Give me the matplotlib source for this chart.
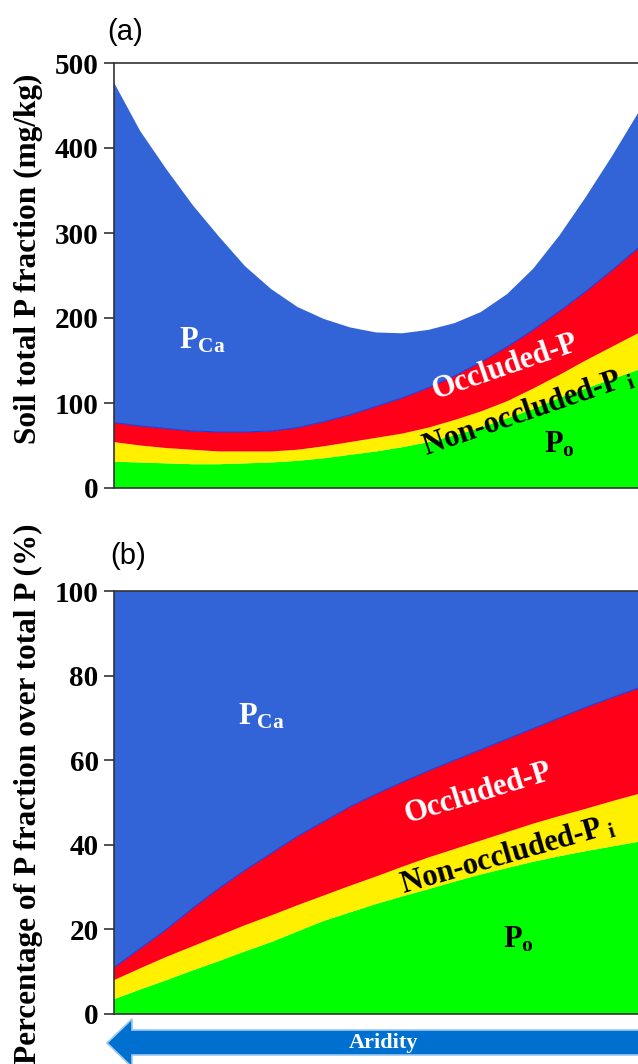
import matplotlib
matplotlib.use("Agg")
import matplotlib.pyplot as plt
from matplotlib.patches import Polygon
import numpy as np

plt.rcParams['mathtext.fontset'] = 'custom'
plt.rcParams['mathtext.bf'] = 'Liberation Serif:bold'
plt.rcParams['mathtext.rm'] = 'Liberation Serif:bold'
plt.rcParams['mathtext.it'] = 'Liberation Serif:bold'

# x position along the aridity gradient (normalised, visible part of axis)
x = [0.00, 0.05, 0.10, 0.15, 0.20, 0.25, 0.30, 0.35, 0.40, 0.45, 0.50,
     0.55, 0.60, 0.65, 0.70, 0.75, 0.80, 0.85, 0.90, 0.95, 1.00]

# Panel (a): soil P fractions (mg/kg)
a_po = [31, 30, 29, 28, 28, 29, 30, 32, 35, 39, 43,
        48, 54, 62, 71, 82, 93, 106, 117, 128, 139]
a_nonocc = [23, 20, 18, 17, 15, 14, 13, 13, 14, 15, 16,
            16, 17, 18, 19, 20, 24, 27, 33, 38, 43]
a_occ = [23, 23, 23, 22, 23, 23, 24, 26, 29, 32, 37,
         42, 47, 52, 58, 64, 69, 75, 81, 90, 100]
a_pca = [400, 347, 305, 266, 230, 195, 167, 142, 121, 103, 87,
         76, 68, 62, 59, 62, 72, 89, 111, 134, 159]

# Panel (b): percentage of total P (%)
b_po = [3.5, 5.8, 8.0, 10.3, 12.5, 14.8, 17.0, 19.5, 22.0, 24.0, 26.0,
        27.8, 29.5, 31.3, 33.0, 34.5, 36.0, 37.3, 38.5, 39.6, 40.7]
b_nonocc = [4.5, 5.0, 5.5, 5.7, 6.0, 6.2, 6.3, 6.2, 6.0, 6.3, 6.5,
            7.0, 7.5, 7.7, 8.0, 8.5, 9.0, 9.5, 10.0, 10.7, 11.3]
b_occ = [3.0, 4.7, 6.5, 9.0, 11.2, 13.0, 14.7, 16.3, 17.5, 18.7, 19.5,
         20.0, 20.5, 21.0, 21.5, 22.0, 22.5, 23.2, 24.0, 24.5, 25.0]
b_pca = [89.0, 84.5, 80.0, 75.0, 70.3, 66.0, 62.0, 58.0, 54.5, 51.0, 48.0,
         45.2, 42.5, 40.0, 37.5, 35.0, 32.5, 30.0, 27.5, 25.2, 23.0]

a_ticks = [0, 100, 200, 300, 400, 500]
b_ticks = [0, 20, 40, 60, 80, 100]

colors = ['#00FF00', '#FFF000', '#FF0018', '#3264D8']

W, H = 638, 1064
fig = plt.figure(figsize=(W / 100, H / 100), dpi=100)

def px_box(left, top, right, bottom):
    return [left / W, 1 - bottom / H, (right - left) / W, (bottom - top) / H]

xmax = (650 - 114) / (638 - 114)
serif_bold = dict(family='Liberation Serif', weight='bold')

def style_axes(ax, ticks, ylim, ylabel, label_y):
    ax.set_xlim(0, xmax)
    ax.set_ylim(*ylim)
    ax.set_yticks(ticks)
    ax.set_yticklabels([str(t) for t in ticks], fontdict=dict(size=21, **serif_bold))
    ax.set_xticks([])
    ax.tick_params(axis='y', direction='out', length=7, width=1.2, pad=4,
                   color='#333333', labelcolor='black')
    for s in ['left', 'top', 'bottom']:
        ax.spines[s].set_color('#333333')
        ax.spines[s].set_linewidth(1.2)
    ax.spines['right'].set_visible(False)
    ax.set_ylabel(ylabel, fontsize=22.5, color='black', **serif_bold)
    ax.yaxis.set_label_coords(-0.133, label_y)

# ---------- Panel (a) ----------
ax1 = fig.add_axes(px_box(114, 63, 650, 488))
ax1.stackplot(x, a_po, a_nonocc, a_occ, a_pca, colors=colors, linewidth=0)
top_occ_a = np.array(a_po) + np.array(a_nonocc) + np.array(a_occ)
ax1.plot(x, top_occ_a, color='#1E3CE6', lw=0.8)
style_axes(ax1, a_ticks, (0, 500), 'Soil total P fraction (mg/kg)', 0.54)
fig.text(107 / W, 1 - 32 / H, '(a)', fontsize=21, family='Liberation Sans', va='center', ha='left')

ax1.text(0.168, 174, r'$\mathbf{P_{Ca}}$', color='white', fontsize=22, ha='center', va='center')
ax1.text(0.746, 142, 'Occluded-P', color='white', fontsize=22, rotation=19, rotation_mode='anchor',
         ha='center', va='center', **serif_bold)
ax1.text(0.79, 90, r'Non-occluded-$\mathbf{P_{\ i}}$', color='black', fontsize=22, rotation=19,
         rotation_mode='anchor', ha='center', va='center', **serif_bold)
ax1.text(0.85, 51, r'$\mathbf{P_{o}}$', color='black', fontsize=22, ha='center', va='center')

# ---------- Panel (b) ----------
ax2 = fig.add_axes(px_box(114, 591, 650, 1014))
ax2.stackplot(x, b_po, b_nonocc, b_occ, b_pca, colors=colors, linewidth=0)
top_occ_b = np.array(b_po) + np.array(b_nonocc) + np.array(b_occ)
ax2.plot(x, top_occ_b, color='#1E3CE6', lw=0.8)
style_axes(ax2, b_ticks, (0, 100), 'Percentage of P fraction over total P (%)', 0.52)
fig.text(110 / W, 1 - 556 / H, '(b)', fontsize=21, family='Liberation Sans', va='center', ha='left')

ax2.text(0.281, 70.5, r'$\mathbf{P_{Ca}}$', color='white', fontsize=22, ha='center', va='center')
ax2.text(0.695, 52.2, 'Occluded-P', color='white', fontsize=22, rotation=17, rotation_mode='anchor',
         ha='center', va='center', **serif_bold)
ax2.text(0.752, 37.5, r'Non-occluded-$\mathbf{P_{\ i}}$', color='black', fontsize=22, rotation=16,
         rotation_mode='anchor', ha='center', va='center', **serif_bold)
ax2.text(0.772, 17.7, r'$\mathbf{P_{o}}$', color='black', fontsize=22, ha='center', va='center')

# ---------- Aridity arrow ----------
arrow_px = [(107, 1043), (132, 1019), (132, 1030), (700, 1030), (700, 1055),
            (132, 1055), (132, 1067)]
arrow = Polygon([(px / W, 1 - py / H) for px, py in arrow_px], closed=True,
                transform=fig.transFigure, facecolor='#0070D0', edgecolor='#9CC8F0', lw=1.2)
fig.patches.append(arrow)
fig.text(384 / W, 1 - 1043 / H, 'Aridity', color='white', fontsize=16, ha='center', va='center',
         **serif_bold)

fig.savefig('out.png', dpi=100)
